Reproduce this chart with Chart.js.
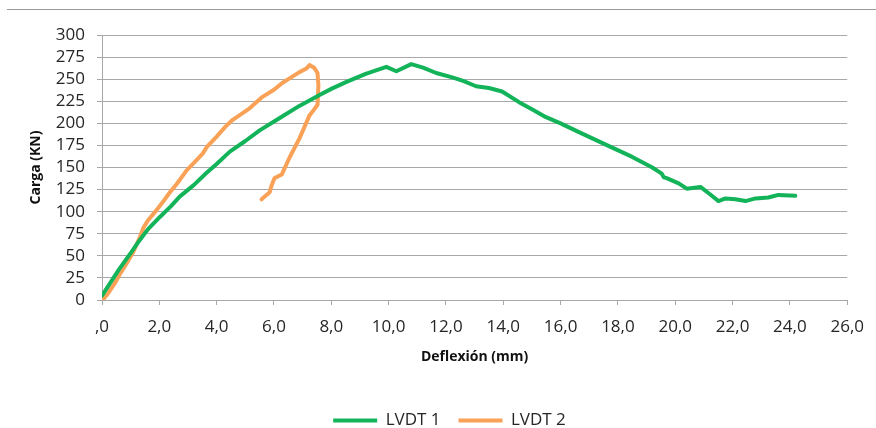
<!DOCTYPE html>
<html>
<head>
<meta charset="utf-8">
<script src="https://cdn.jsdelivr.net/npm/chart.js@4.4.1/dist/chart.umd.min.js"></script>
<style>
  html, body { margin: 0; padding: 0; background: #fff; overflow: hidden; }
  #wrap { position: relative; width: 876px; height: 428px; overflow: hidden; }
  #topRule { position: absolute; left: 7px; right: 0; top: 9px; border-top: 1px solid #9a9a9a; }
  #chart { position: absolute; left: 0; top: 0; }
</style>
</head>
<body>
<div id="wrap">
  <div id="topRule"></div>
  <canvas id="chart" width="876" height="440"></canvas>
</div>
<script>
  // LVDT 1 (deflexion mm / carga kN)
  const lvdt1X = [0.0, 0.3, 0.6, 1.0, 1.32, 1.6, 2.02, 2.4, 2.71, 3.2, 3.65, 4.0, 4.46, 5.0, 5.5, 6.2, 6.9, 7.59, 8.0, 8.53,
    9.2, 9.92, 10.27, 10.79, 11.2, 11.66, 12.22, 12.6, 13.05, 13.5, 13.96, 14.55, 15.0, 15.49, 16.0, 16.64, 17.5, 18.5,
    19.2, 19.53, 19.6, 19.7, 20.12, 20.4, 20.88, 21.2, 21.51, 21.75, 22.1, 22.45, 22.8, 23.25, 23.6, 24.19];
  const lvdt1Y = [5, 20, 35, 53, 68, 80, 94, 106, 117, 130, 144, 154, 168, 180, 192, 206, 220, 232, 239, 247,
    256, 264, 259, 267, 263, 257, 252, 248, 242, 240, 236, 224, 216, 207, 200, 190, 177, 162,
    150, 143, 139, 138, 132, 126, 128, 120, 112, 115, 114, 112, 115, 116, 119, 118];

  // LVDT 2
  const lvdt2X = [0.05, 0.2, 0.45, 0.6, 0.87, 1.1, 1.32, 1.45, 1.6, 1.91, 2.1, 2.37, 2.6, 2.96, 3.2, 3.52, 3.65, 4.0, 4.3,
    4.56, 5.15, 5.6, 6.0, 6.3, 6.6, 6.89, 7.13, 7.24, 7.4, 7.52, 7.55, 7.52, 7.34, 7.24, 6.89, 6.54, 6.27, 6.02, 5.92,
    5.85, 5.67, 5.57];
  const lvdt2Y = [1, 7, 19, 28, 42, 55, 71, 82, 90, 102, 110, 122, 131, 147, 155, 166, 173, 185, 196,
    204, 217, 230, 238, 246, 252, 258, 262, 266, 263, 257, 243, 221, 213, 209, 183, 161, 142, 138, 130,
    122, 117, 114];

  const seriesNames = ['LVDT 1', 'LVDT 2'];
  const xTicks = [0, 2, 4, 6, 8, 10, 12, 14, 16, 18, 20, 22, 24, 26];
  const yTicks = [0, 25, 50, 75, 100, 125, 150, 175, 200, 225, 250, 275, 300];

  const toPoints = (xs, ys) => xs.map((x, i) => ({ x: x, y: ys[i] }));
  const fmtX = v => v === 0 ? ',0' : v.toFixed(1).replace('.', ',');

  const GREEN = '#13b35a';
  const ORANGE = '#f9a257';
  const GRID = '#a8a8a8';
  const TICK = '#262626';

  // nudge the legend a little to the right, as in the original
  const legendShift = {
    id: 'legendShift',
    afterLayout(chart) { chart.legend.left += 48; }
  };

  new Chart(document.getElementById('chart').getContext('2d'), {
    type: 'scatter',
    data: {
      datasets: [
        { label: seriesNames[0], data: toPoints(lvdt1X, lvdt1Y), showLine: true, borderColor: GREEN, backgroundColor: GREEN,
          borderWidth: 4, pointRadius: 0, tension: 0, borderCapStyle: 'round', borderJoinStyle: 'round' },
        { label: seriesNames[1], data: toPoints(lvdt2X, lvdt2Y), showLine: true, borderColor: ORANGE, backgroundColor: ORANGE,
          borderWidth: 4, pointRadius: 0, tension: 0, borderCapStyle: 'round', borderJoinStyle: 'round' }
      ]
    },
    plugins: [legendShift],
    options: {
      responsive: false,
      animation: false,
      devicePixelRatio: 1,
      layout: { padding: { top: 35, right: 25, left: 0, bottom: 1 } },
      plugins: {
        tooltip: { enabled: false },
        legend: {
          position: 'bottom',
          labels: {
            usePointStyle: true,
            pointStyle: 'line',
            pointStyleWidth: 44,
            padding: 18,
            color: TICK,
            font: { family: 'Open Sans', size: 17 }
          }
        }
      },
      scales: {
        x: {
          type: 'linear',
          min: 0, max: 26,
          afterBuildTicks: s => { s.ticks = xTicks.map(v => ({ value: v })); },
          afterFit: s => { s.height = 94; },
          ticks: { callback: v => fmtX(v), padding: 12, color: TICK, maxRotation: 0, autoSkip: false,
            font: { family: 'Open Sans', size: 17 } },
          grid: { drawOnChartArea: false, drawTicks: true, tickLength: 5, color: GRID },
          border: { display: true, color: GRID },
          title: { display: true, text: 'Deflexión (mm)', color: '#111', padding: { top: 0, bottom: 29 },
            font: { family: 'Open Sans', size: 14, weight: 'bold' } }
        },
        y: {
          min: 0, max: 300,
          afterBuildTicks: s => { s.ticks = yTicks.map(v => ({ value: v })); },
          afterFit: s => { s.width = 102; },
          ticks: { padding: 12, color: TICK, autoSkip: false, font: { family: 'Open Sans', size: 17 } },
          grid: { color: GRID, tickLength: 5 },
          border: { display: true, color: GRID },
          title: { display: true, text: 'Carga (KN)', color: '#111', padding: { top: 28, bottom: 0 },
            font: { family: 'Open Sans', size: 14, weight: 'bold' } }
        }
      }
    }
  });
</script>
</body>
</html>
